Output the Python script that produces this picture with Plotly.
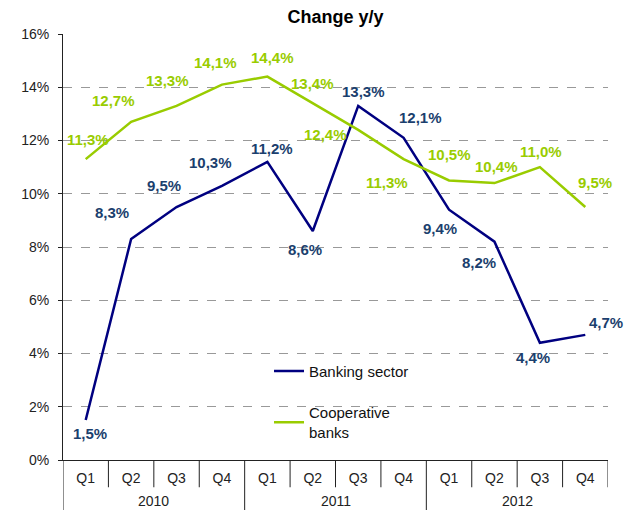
import plotly.graph_objects as go

FONT = "Liberation Sans, Arial, sans-serif"
NAVY = "#000080"
NAVY_TXT = "#1b3f6e"
GREEN = "#99cc00"

quarters = ["Q1", "Q2", "Q3", "Q4"] * 3
years = ["2010", "2011", "2012"]
banking = [1.5, 8.3, 9.5, 10.3, 11.2, 8.6, 13.3, 12.1, 9.4, 8.2, 4.4, 4.7]
coop = [11.3, 12.7, 13.3, 14.1, 14.4, 13.4, 12.4, 11.3, 10.5, 10.4, 11.0, 9.5]

# label offsets in px (dx, dy with dy positive = up)
bank_off = [(4, -13), (-19, 27), (-13, 22), (-11, 23), (5, 13), (-8, -18),
            (5, 14), (17, 20), (-9, -19), (-15, -21), (-7, -15), (21, 12)]
coop_off = [(2, 20), (-18, 21), (-9, 25), (-6, 22), (5, 19), (0, 20),
            (-33, -5), (-17, -23), (0, 26), (2, 17), (1, 16), (10, 25)]

idx = list(range(len(quarters)))

fig = go.Figure()
fig.add_trace(go.Scatter(x=idx, y=banking, mode="lines", name="Banking sector",
                         line=dict(color=NAVY, width=2.5), legendgroup="a"))
fig.add_trace(go.Scatter(x=idx, y=coop, mode="lines", name="Cooperative<br>banks",
                         line=dict(color=GREEN, width=2.5), legendgroup="b"))


def fmt(v):
    return f"{v:.1f}%".replace(".", ",")


for i, v in enumerate(banking):
    dx, dy = bank_off[i]
    fig.add_annotation(x=i, y=v, text=f"<b>{fmt(v)}</b>", showarrow=False,
                       xshift=dx, yshift=dy, font=dict(family=FONT, size=15, color=NAVY_TXT))
for i, v in enumerate(coop):
    dx, dy = coop_off[i]
    fig.add_annotation(x=i, y=v, text=f"<b>{fmt(v)}</b>", showarrow=False,
                       xshift=dx, yshift=dy, font=dict(family=FONT, size=15, color=GREEN))

# year labels under the quarter ticks
for k, yr in enumerate(years):
    fig.add_annotation(x=4 * k + 1.5, y=-0.097, yref="paper", yanchor="middle", text=yr,
                       showarrow=False, font=dict(family=FONT, size=14, color="#222"))

# category dividers
for b in range(13):
    xb = b - 0.5
    full = b % 4 == 0 and b < 12
    fig.add_shape(type="line", x0=xb, x1=xb, y0=0, y1=-0.12 if full else -0.064,
                  yref="paper", line=dict(color="#222", width=1))

fig.update_layout(
    width=629, height=510,
    margin=dict(l=63, r=21, t=34, b=50),
    paper_bgcolor="white", plot_bgcolor="white",
    font=dict(family=FONT, size=14, color="#222"),
    title=dict(text="<b>Change y/y</b>", x=0.5, xref="paper", y=0.967, yanchor="middle",
               font=dict(family=FONT, size=18, color="black")),
    legend=dict(x=0.378, y=0.247, xanchor="left", yanchor="top", bgcolor="rgba(0,0,0,0)",
                font=dict(family=FONT, size=15, color="#111"), tracegroupgap=19,
                itemwidth=30),
    showlegend=True,
)
fig.update_xaxes(range=[-0.5, 11.5], tickvals=idx, ticktext=quarters, showgrid=False,
                 showline=True, linecolor="#222", linewidth=1, ticks="", zeroline=False,
                 ticklabelstandoff=5, tickfont=dict(size=14, color="#222"))
fig.update_yaxes(range=[0, 16], dtick=2, ticksuffix="%", showgrid=True, gridcolor="#999",
                 griddash="dash", gridwidth=1, showline=True, linecolor="#222", linewidth=1,
                 ticks="outside", ticklen=4, tickcolor="#222", zeroline=False,
                 ticklabelstandoff=6, tickfont=dict(size=14, color="#222"))

# drop the default page margin so the 629x510 figure fills the window exactly
fig.write_html("out.html", config={"displayModeBar": False},
               post_script="document.body.style.margin='0';"
                           "document.body.style.overflow='hidden';")
